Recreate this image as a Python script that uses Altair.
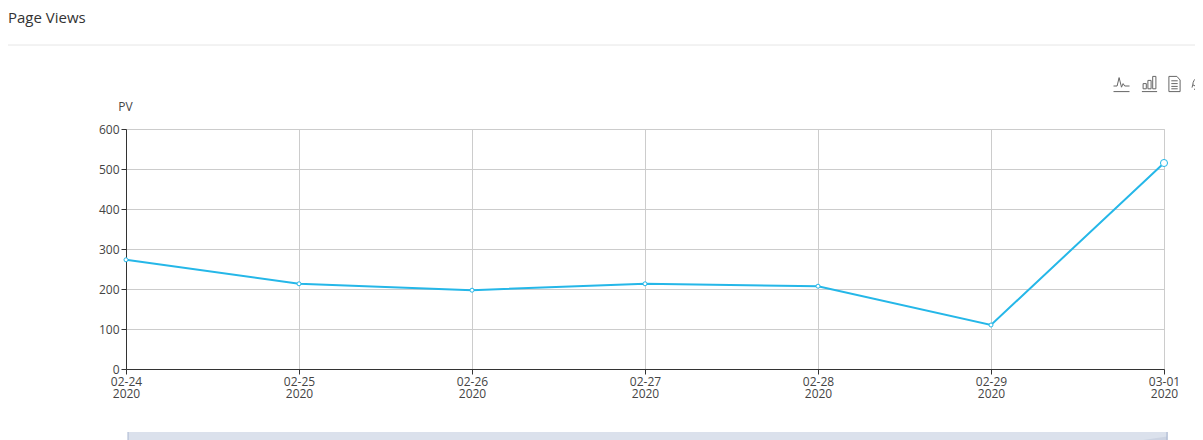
import altair as alt
import pandas as pd

dates = ["02-24\n2020", "02-25\n2020", "02-26\n2020", "02-27\n2020", "02-28\n2020", "02-29\n2020", "03-01\n2020"]
views = [273, 213, 197, 213, 207, 110, 515]
y_ticks = [0, 100, 200, 300, 400, 500, 600]

FONT = "Open Sans"
LINE = "#25b7e8"
GRID = "#cccccc"
W, H = 1038, 240
PL, PT = 118, 121
PR, PB = 31, 71

df = pd.DataFrame({"date": dates, "views": views})

x = alt.X("date:N", sort=dates, scale=alt.Scale(type="point", padding=0, range=[0, W]),
          axis=alt.Axis(title=None, labelAngle=0, labelExpr="split(datum.label, '\\n')",
                        labelFont=FONT, labelFontSize=12, labelColor="#444", labelPadding=2,
                        labelLineHeight=12, labelOverlap=False, labelBound=False, labelFlush=False,
                        domainColor="#333", tickColor="#333", tickSize=5,
                        gridColor=GRID, grid=True, gridOpacity=1))
y = alt.Y("views:Q", scale=alt.Scale(domain=[0, 600], nice=False),
          axis=alt.Axis(title="PV", titleAngle=0, titleX=-1, titleY=-23, titleAlign="center",
                        titleBaseline="middle", titleFont=FONT, titleFontSize=12,
                        titleFontWeight="normal", titleColor="#444", values=y_ticks,
                        labelFont=FONT, labelFontSize=12, labelColor="#444", labelPadding=2,
                        domainColor="#333", tickColor="#333", tickSize=5,
                        gridColor=GRID, grid=True, gridOpacity=1))

base = alt.Chart(df)
line = base.mark_line(color=LINE, strokeWidth=2).encode(x=x, y=y)
pts = base.transform_filter(alt.datum.views != max(views)).mark_point(
    filled=True, fill="white", stroke=LINE, strokeWidth=1, size=16, opacity=1).encode(x=x, y=y)
last = base.transform_filter(alt.datum.views == max(views)).mark_point(
    filled=True, fill="white", stroke=LINE, strokeWidth=1, size=50, opacity=1).encode(x=x, y=y)

one = alt.Chart(pd.DataFrame({"a": [0]}))
divider = one.mark_rule(color="#e6e6e6", strokeWidth=1).encode(
    x=alt.value(-PL), x2=alt.value(W + PR), y=alt.value(-84))
strip = one.mark_rect(color="#dbe1ec").encode(
    x=alt.value(2), x2=alt.value(1042), y=alt.value(H + 63), y2=alt.value(H + 71))
strip_l = one.mark_rule(color="#a9b6d0", strokeWidth=1).encode(
    x=alt.value(2), y=alt.value(H + 63), y2=alt.value(H + 71))
strip_r = one.mark_rule(color="#a9b6d0", strokeWidth=1).encode(
    x=alt.value(1041), y=alt.value(H + 63), y2=alt.value(H + 71))
wedge = one.mark_point(shape="M-1,0.17L1,0.17L1,-0.13Z", size=576, filled=True, fill="#ccd3e2",
                       strokeWidth=0, opacity=1).encode(x=alt.value(1029), y=alt.value(H + 69))

ICONS = [
    (995.5, -45, "M-1,0.95H1M-1,0.25H-0.55L-0.3,-0.8L0,0.4L0.2,-0.05L0.4,0.25H1"),
    (1023.5, -45, "M-0.95,0.95H0.95M-0.8,0.6V-0.05H-0.4V0.6ZM-0.2,0.6V-0.45H0.2V0.6ZM0.4,0.6V-0.95H0.8V0.6Z"),
    (1048.5, -45, "M-0.7,-0.95H0.3L0.7,-0.5V0.95H-0.7ZM-0.4,-0.4H0.4M-0.4,-0.05H0.4M-0.4,0.3H0.4M-0.4,0.6H0.4"),
    (1074, -45, "M0.8,-0.5A0.95,0.95 0 0 0 -0.9,0.1M-0.9,0.1L-1,0.45M-0.9,0.1L-0.6,0.25M-0.75,0.6A0.95,0.95 0 0 0 0.9,0.2"),
]
icons = [
    one.mark_point(shape=p, size=256, stroke="#666", strokeWidth=1, filled=False, opacity=1).encode(
        x=alt.value(ix), y=alt.value(iy))
    for ix, iy, p in ICONS
]

chart = alt.layer(divider, line, pts, last, strip, wedge, strip_l, strip_r, *icons).properties(
    width=W, height=H,
    autosize=alt.AutoSizeParams(type="none"),
    padding={"left": PL, "top": PT, "right": PR, "bottom": PB},
    title=alt.TitleParams("Page Views", anchor="start", frame="group", dx=-PL, offset=4,
                          font=FONT, fontSize=15, fontWeight="normal", color="#333", baseline="bottom"),
).configure_view(stroke=GRID, strokeWidth=1)

chart.save("out.html", embed_options={"renderer": "svg", "actions": False})
